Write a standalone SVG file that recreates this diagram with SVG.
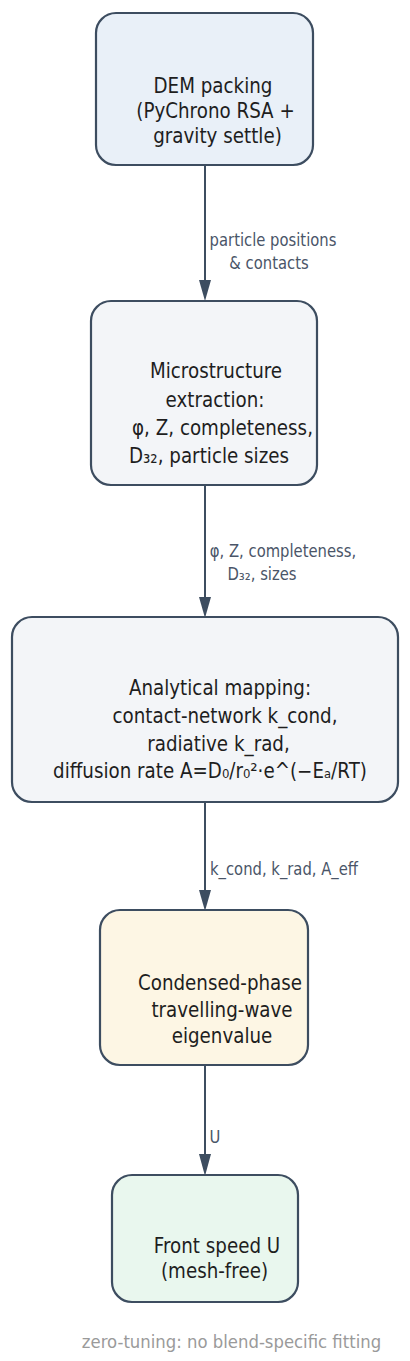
<svg xmlns="http://www.w3.org/2000/svg" width="410" height="1361" viewBox="0 0 410 1361">
<defs>
<style>
.box{stroke:#3d4d60;stroke-width:2.2}
.t{font-family:"DejaVu Sans","Liberation Sans",sans-serif;font-size:18.3px;fill:#1e1e1e;text-anchor:middle}
.lbl{font-family:"DejaVu Sans","Liberation Sans",sans-serif;font-size:14.8px;fill:#4a5568;text-anchor:middle}
.foot{font-family:"DejaVu Sans","Liberation Sans",sans-serif;font-size:16.5px;fill:#9a9a9a;text-anchor:middle}
.edge{stroke:#3d4d60;stroke-width:2;fill:none}
.head{fill:#3d4d60}
</style>
</defs>
<rect width="410" height="1361" fill="#ffffff"/>
<g id="connectors">
<line class="edge" x1="205" y1="165" x2="205" y2="280"/>
<polygon class="head" points="199,280 211,280 205,301"/>
<line class="edge" x1="205" y1="485" x2="205" y2="597"/>
<polygon class="head" points="199,597 211,597 205,618"/>
<line class="edge" x1="205" y1="802" x2="205" y2="890"/>
<polygon class="head" points="199,890 211,890 205,911"/>
<line class="edge" x1="205" y1="1065" x2="205" y2="1154"/>
<polygon class="head" points="199,1154 211,1154 205,1176"/>
<text class="lbl" transform="translate(273 246) scale(1 1.14)">particle positions</text>
<text class="lbl" transform="translate(269 269) scale(1 1.14)">&amp; contacts</text>
<text class="lbl" transform="translate(283 557) scale(1 1.14)">φ, Z, completeness,</text>
<text class="lbl" transform="translate(262 580) scale(1 1.14)">D₃₂, sizes</text>
<text class="lbl" transform="translate(284 875) scale(1 1.14)">k_cond, k_rad, A_eff</text>
<text class="lbl" transform="translate(215 1143) scale(1 1.14)">U</text>
</g>
<g id="node1">
<rect class="box" x="96" y="13" width="217" height="152" rx="20" fill="#e9f0f8"/>
<text class="t" transform="translate(213 93) scale(1 1.12)">DEM packing</text>
<text class="t" transform="translate(215.5 118) scale(1 1.12)">(PyChrono RSA +</text>
<text class="t" transform="translate(217.5 143) scale(1 1.12)">gravity settle)</text>
</g>
<g id="node2">
<rect class="box" x="91" y="301" width="226" height="184" rx="20" fill="#f3f5f8"/>
<text class="t" transform="translate(216 378) scale(1 1.12)">Microstructure</text>
<text class="t" transform="translate(215 407) scale(1 1.12)">extraction:</text>
<text class="t" transform="translate(222.5 435) scale(1 1.12)">φ, Z, completeness,</text>
<text class="t" transform="translate(209 463) scale(1 1.12)">D₃₂, particle sizes</text>
</g>
<g id="node3">
<rect class="box" x="12" y="617" width="386" height="185" rx="20" fill="#f3f5f8"/>
<text class="t" transform="translate(220 695) scale(1 1.12)">Analytical mapping:</text>
<text class="t" transform="translate(225 723) scale(1 1.12)">contact-network k_cond,</text>
<text class="t" transform="translate(218.5 751) scale(1 1.12)">radiative k_rad,</text>
<text class="t" transform="translate(210 778) scale(1 1.12)">diffusion rate A=D₀/r₀²·e^(−Eₐ/RT)</text>
</g>
<g id="node4">
<rect class="box" x="100" y="910" width="208" height="155" rx="20" fill="#fdf6e4"/>
<text class="t" transform="translate(220 990) scale(1 1.12)">Condensed-phase</text>
<text class="t" transform="translate(222 1017) scale(1 1.12)">travelling-wave</text>
<text class="t" transform="translate(222 1043) scale(1 1.12)">eigenvalue</text>
</g>
<g id="node5">
<rect class="box" x="112" y="1175" width="186" height="127" rx="20" fill="#e9f7ee"/>
<text class="t" transform="translate(217 1253) scale(1 1.12)">Front speed U</text>
<text class="t" transform="translate(214.5 1278) scale(1 1.12)">(mesh-free)</text>
</g>
<text class="foot" transform="translate(231.5 1348) scale(1 1.1)">zero-tuning: no blend-specific fitting</text>
</svg>
